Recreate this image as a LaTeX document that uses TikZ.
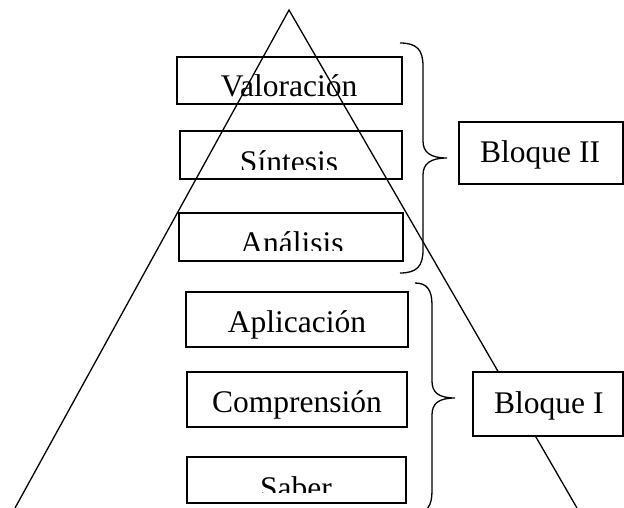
\documentclass[tikz,border=0pt]{standalone}
\usepackage{fontspec}
\setmainfont{Liberation Serif}
\begin{document}
\begin{tikzpicture}[x=1pt,y=-1pt,
  box/.style={draw, line width=1.1pt, inner sep=0pt},
  bloque/.style={draw, fill=white, line width=1.1pt, inner sep=0pt},
  lbl/.style={font=\fontsize{31.5}{36}\selectfont, inner sep=0pt, anchor=base},
  ln/.style={line width=1.3pt}]
\clip (0,0) rectangle (624,508);
\fill[white] (0,0) rectangle (624,508);
% level boxes
\node[box, minimum width=225pt, minimum height=47pt] (bval) at (289.5,80.5) {};
\node[box, minimum width=222pt, minimum height=48pt] (bsin) at (291,155) {};
\node[box, minimum width=224pt, minimum height=48pt] (bana) at (291,237) {};
\node[box, minimum width=222pt, minimum height=55pt] (bapl) at (297,319.5) {};
\node[box, minimum width=220pt, minimum height=55pt] (bcom) at (297,399.5) {};
\node[box, minimum width=219pt, minimum height=46pt] (bsab) at (296.5,480) {};
% labels
\node[lbl] (tval) at (289,97) {Valoración};
\begin{scope}
\clip (180,131) rectangle (402,170);
\node[lbl] (tsin) at (289,173) {Síntesis};
\end{scope}
\begin{scope}
\clip (179,213) rectangle (403,250);
\node[lbl] (tana) at (292,253) {Análisis};
\end{scope}
\node[lbl] (tapl) at (297,332) {Aplicación};
\node[lbl] (tcom) at (297,412) {Comprensión};
\begin{scope}
\clip (187,457) rectangle (406,492);
\node[lbl] (tsab) at (296,498) {Saber};
\end{scope}
% pyramid
\coordinate (apex) at (289,10);
\coordinate (bl) at (15,508);
\coordinate (br) at (577,508);
\draw[ln] (bl) -- (apex) -- (br);
% braces
\coordinate (b2top) at (400,43);
\coordinate (b2tip) at (447,158);
\coordinate (b2bot) at (400,273);
\draw[ln] (b2top) .. controls (417,43) and (423,50) .. (423,66) -- (423,141)
  .. controls (423,152) and (430,158) .. (b2tip)
  .. controls (430,158) and (423,164) .. (423,175) -- (423,250)
  .. controls (423,266) and (417,273) .. (b2bot);
\coordinate (b1top) at (415,283);
\coordinate (b1tip) at (455,398);
\coordinate (b1bot) at (415,513);
\draw[ln] (b1top) .. controls (427,283) and (432,290) .. (432,305) -- (432,381)
  .. controls (432,392) and (438,398) .. (b1tip)
  .. controls (438,398) and (432,404) .. (432,415) -- (432,491)
  .. controls (432,506) and (427,513) .. (b1bot);
% bloque boxes
\node[bloque, minimum width=164pt, minimum height=62pt] (blk2) at (541,153) {};
\node[bloque, minimum width=150pt, minimum height=64pt] (blk1) at (548,404) {};
\node[lbl, anchor=base west] (tblk2) at (480,163) {Bloque II};
\node[lbl, anchor=base west] (tblk1) at (494,413) {Bloque I};
\end{tikzpicture}
\end{document}
